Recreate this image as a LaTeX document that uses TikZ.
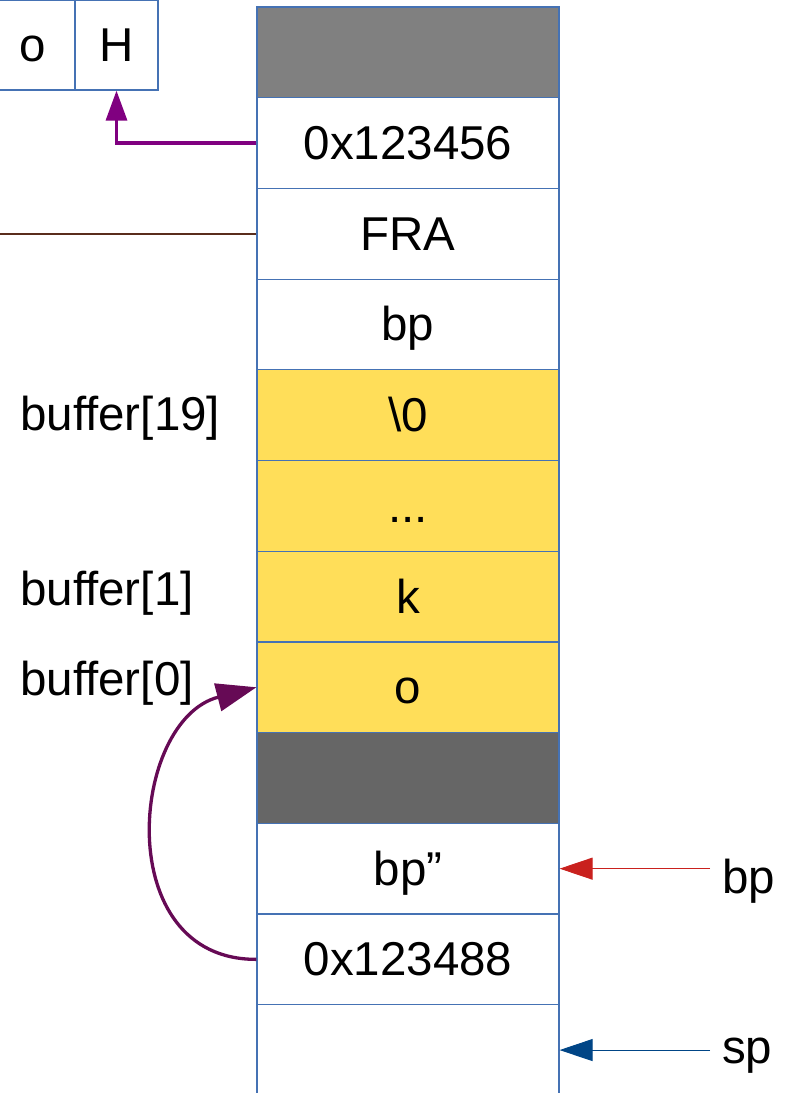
\documentclass[tikz,border=0pt]{standalone}
\usepackage{fontspec}
\setmainfont{Liberation Sans}
\usetikzlibrary{arrows.meta}
\definecolor{cellline}{RGB}{69,114,180}
\definecolor{topgray}{RGB}{128,128,128}
\definecolor{darkgray2}{RGB}{102,102,102}
\definecolor{bufyellow}{RGB}{255,222,89}
\definecolor{ptrpurple}{RGB}{128,0,128}
\definecolor{curvepurple}{RGB}{102,10,85}
\definecolor{linkbrown}{RGB}{90,45,28}
\definecolor{bpred}{RGB}{201,33,30}
\definecolor{spblue}{RGB}{0,69,134}
\tikzset{
  cell/.style={draw=cellline, line width=1.2pt, minimum width=302pt, minimum height=90.7pt,
    inner sep=0pt, text height=33pt, text depth=0pt, font=\fontsize{47.5}{57}\selectfont},
  smallcell/.style={draw=cellline, line width=1.2pt, minimum height=90pt, inner sep=0pt,
    text height=33pt, text depth=0pt, font=\fontsize{47.5}{57}\selectfont},
  lbl/.style={anchor=base west, inner sep=0pt, font=\fontsize{47.5}{57}\selectfont},
}
\begin{document}
\begin{tikzpicture}[x=1pt,y=-1pt]
\useasboundingbox (0,0) rectangle (789,1093);
\begin{scope}
\clip (0,0) rectangle (789,1093);
% stack cells
\node[cell, fill=topgray]   (c0)  at (408, 52.35) {};
\node[cell]                 (c1)  at (408, 143.05) {0x123456};
\node[cell]                 (c2)  at (408, 233.75) {FRA};
\node[cell]                 (c3)  at (408, 324.45) {bp};
\node[cell, fill=bufyellow] (c4)  at (408, 415.15) {\textbackslash 0};
\node[cell, fill=bufyellow] (c5)  at (408, 505.85) {...};
\node[cell, fill=bufyellow] (c6)  at (408, 596.55) {k};
\node[cell, fill=bufyellow] (c7)  at (408, 687.25) {o};
\node[cell, fill=darkgray2] (c8)  at (408, 777.95) {};
\node[cell]                 (c9)  at (408, 868.65) {bp”};
\node[cell]                 (c10) at (408, 959.35) {0x123488};
\node[cell]                 (c11) at (408, 1050.05) {};
% top left boxes
\node[smallcell, minimum width=85pt] (ob) at (32.5, 45) {o};
\node[smallcell, minimum width=83pt] (Hb) at (116.5, 45) {H};
% left labels
\node[lbl] (l19) at (20, 430) {buffer[19]};
\node[lbl] (l1)  at (20, 605) {buffer[1]};
\node[lbl] (l0)  at (20, 695) {buffer[0]};
% right labels
\node[lbl] (bpl) at (722, 893) {bp};
\node[lbl] (spl) at (722, 1063) {sp};
\coordinate (bpstart) at (710, 868.65);
\coordinate (spstart) at (710, 1050.05);
\coordinate (brownend) at (0, 233.75);
% connectors
\draw[ptrpurple, line width=3.3pt, -{Triangle[length=30pt,width=21pt]}] (c1.west) -| (Hb.south);
\draw[linkbrown, line width=2pt] (c2.west) -- (brownend);
\draw[curvepurple, line width=3.3pt, -{Triangle[length=40pt,width=28pt]}]
  (c10.west) .. controls (110,960) and (130,720) .. (c7.west);
\draw[bpred, line width=1pt, -{Triangle[length=33pt,width=22pt]}] (bpstart) -- (c9.east);
\draw[spblue, line width=1pt, -{Triangle[length=33pt,width=22pt]}] (spstart) -- (c11.east);
\end{scope}
\end{tikzpicture}
\end{document}
